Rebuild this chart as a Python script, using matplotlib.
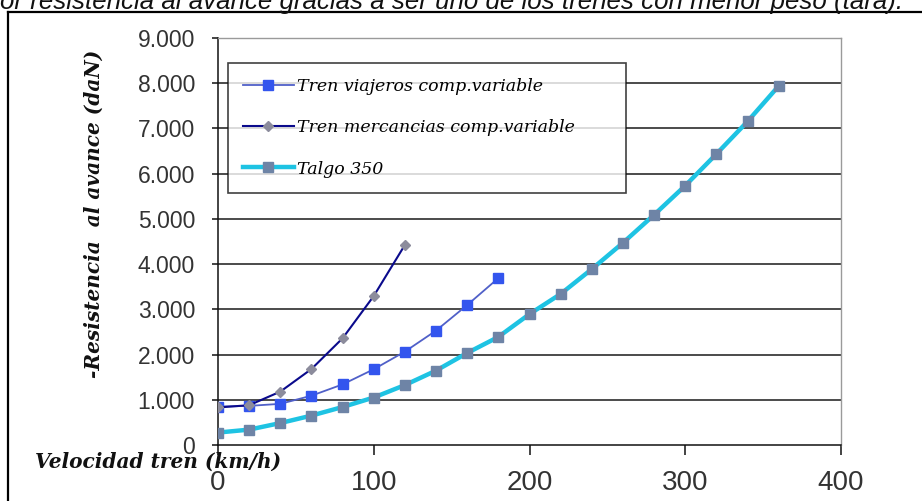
import matplotlib
matplotlib.use("Agg")
import matplotlib.pyplot as plt
from matplotlib.lines import Line2D
from matplotlib.ticker import FuncFormatter

# data (speed km/h, resistance daN)
vel_viajeros = [0, 20, 40, 60, 80, 100, 120, 140, 160, 180]
res_viajeros = [850, 865, 910, 1090, 1340, 1675, 2065, 2530, 3095, 3690]

vel_mercancias = [0, 20, 40, 60, 80, 100, 120]
res_mercancias = [830, 880, 1180, 1680, 2360, 3295, 4425]

vel_talgo = [0, 20, 40, 60, 80, 100, 120, 140, 160, 180, 200, 220, 240,
             260, 280, 300, 320, 340, 360]
res_talgo = [275, 340, 485, 650, 840, 1050, 1325, 1645, 2035, 2390, 2895,
             3340, 3890, 4470, 5090, 5735, 6435, 7155, 7940]

labels = ["Tren viajeros comp.variable",
          "Tren mercancias comp.variable",
          "Talgo 350"]
x_ticks = [0, 100, 200, 300, 400]
y_ticks = [0, 1000, 2000, 3000, 4000, 5000, 6000, 7000, 8000, 9000]

TITLE = ("or resistencia al avance gracias a ser uno de los trenes con "
         "menor peso (tara).")

W, H = 922, 501
fig = plt.figure(figsize=(W / 100, H / 100), dpi=100)
fig.patch.set_facecolor("white")

ax = fig.add_axes([218 / W, 1 - 445 / H, (841 - 218) / W, (445 - 38) / H])

l1, = ax.plot(vel_viajeros, res_viajeros, color="#5060C8", lw=1.3,
              marker="s", ms=6.5, mfc="#3355EE", mec="#3355EE", zorder=4)
l2, = ax.plot(vel_mercancias, res_mercancias, color="#0A0A8C", lw=1.5,
              marker="D", ms=5, mfc="#8C8C9C", mec="#8C8C9C", zorder=5)
l3, = ax.plot(vel_talgo, res_talgo, color="#1EC3E3", lw=3.2,
              marker="s", ms=7, mfc="#6E84A6", mec="#6E84A6", zorder=3)

ax.set_xlim(0, 400)
ax.set_ylim(0, 9000)
ax.set_xticks(x_ticks)
ax.set_yticks(y_ticks)
ax.yaxis.set_major_formatter(FuncFormatter(lambda v, p: f"{int(v):,}".replace(",", ".")))

for yv in y_ticks[1:-1]:
    ax.axhline(yv, color="#1a1a1a", lw=1.1, zorder=1)

for s in ("left", "bottom"):
    ax.spines[s].set_color("#111111")
    ax.spines[s].set_linewidth(1.1)
for s in ("top", "right"):
    ax.spines[s].set_color("#9a9a9a")
    ax.spines[s].set_linewidth(1.0)

ax.tick_params(axis="x", direction="out", length=7, width=1.1, pad=11,
               labelsize=20, colors="#111111")
ax.tick_params(axis="y", direction="out", length=4.5, width=1.1, pad=12,
               labelsize=16.5, colors="#111111")
for t in ax.get_xticklabels() + ax.get_yticklabels():
    t.set_fontfamily("Liberation Sans")
    t.set_color("#333333")

leg = ax.legend([l1, l2, l3], labels, loc="upper left", mode="expand",
                bbox_to_anchor=(228 / W, 1 - 195 / H, 398 / W, 132 / H),
                bbox_transform=fig.transFigure,
                frameon=True, fancybox=False, edgecolor="#111111",
                borderpad=0.88, labelspacing=1.39, handlelength=2.9,
                handletextpad=0.17, borderaxespad=0,
                prop={"family": "DejaVu Serif", "style": "italic", "size": 12.5})
leg.get_frame().set_linewidth(1.2)

# axis titles as in the original (placed by hand in the chart area)
fig.text(35 / W, 1 - 462 / H, "Velocidad tren (km/h)", ha="left", va="center",
         fontsize=14.5, fontweight="bold", style="italic", family="DejaVu Serif",
         color="#111111")
fig.text(94 / W, 1 - 378 / H, "-Resistencia  al avance (daN)", rotation=90,
         ha="center", va="bottom", fontsize=14.5, fontweight="bold",
         style="italic", family="DejaVu Serif", color="#111111")

# clipped caption at the very top
fig.text(0, 1 - 9 / H, TITLE, ha="left", va="baseline", fontsize=18.6,
         style="italic", family="Liberation Sans", color="#111111")

# outer frame of the picture
fig.add_artist(Line2D([8 / W, 1], [1 - 12 / H, 1 - 12 / H],
                      transform=fig.transFigure, color="black", lw=1.6))
fig.add_artist(Line2D([8 / W, 8 / W], [0, 1 - 12 / H],
                      transform=fig.transFigure, color="black", lw=1.6))

fig.savefig("out.png", dpi=100)
